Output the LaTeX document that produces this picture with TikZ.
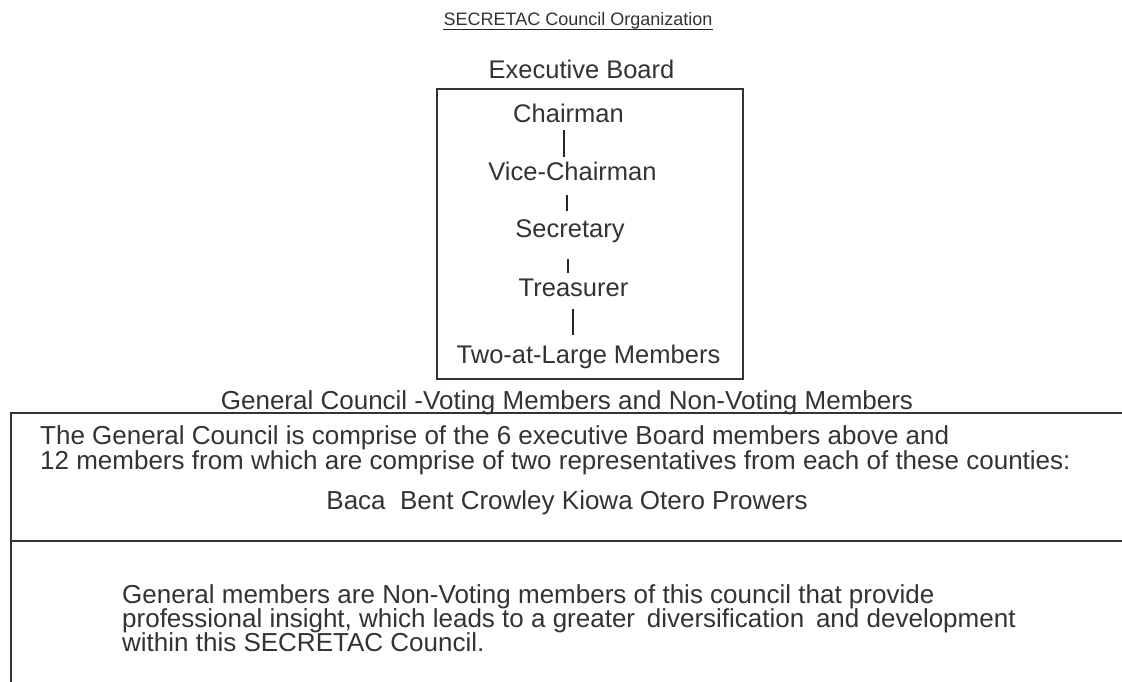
\documentclass[tikz,border=0pt]{standalone}
\usepackage{fontspec}
\setmainfont{Liberation Sans}
\usetikzlibrary{calc}
\tikzset{
  body/.style={inner sep=0pt, font=\fontsize{25.5}{30}\selectfont, text=black!80},
  para/.style={inner sep=0pt, font=\fontsize{26}{30}\selectfont, text=black!80},
  small/.style={inner sep=0pt, font=\fontsize{18}{20}\selectfont, text=black!80},
  rule/.style={line width=1.6pt, draw=black!80},
  link/.style={line width=1.1pt, draw=black!85},
}
\begin{document}
\begin{tikzpicture}[x=1pt,y=-1pt]
\useasboundingbox (0,0) rectangle (1122,682);
\fill[white] (0,0) rectangle (1122,682);

% heading
\node[small, anchor=base] (title) at (578,26) {SECRETAC Council Organization};
\draw[line width=1pt, black!85] (title.south west) -- (title.south east);

% executive board
\node[body, anchor=base] (exec) at (581.5,79) {Executive Board};
\node[rule, draw, minimum width=306pt, minimum height=290pt, inner sep=0pt] (board) at (590,234) {};

\node[body, anchor=base] (chair) at (568.5,123) {Chairman};
\node[body, anchor=base] (vice)  at (572.5,180) {Vice-Chairman};
\node[body, anchor=base] (secr)  at (570,237)   {Secretary};
\node[body, anchor=base] (treas) at (573.5,296) {Treasurer};
\node[body, anchor=base] (large) at (588.5,363) {Two-at-Large Members};

\draw[link] ($(chair.base)+(-4.5,7)$)  -- ($(vice.base)+(-8.5,-23)$);
\draw[link] ($(vice.base)+(-5.5,15)$)  -- ($(secr.base)+(-3,-26)$);
\draw[link] ($(secr.base)+(-2,22)$)    -- ($(treas.base)+(-5.5,-23)$);
\draw[link] ($(treas.base)+(-0.5,13)$) -- ($(large.base)+(-15.5,-28)$);

% general council
\node[para, anchor=base] (gc) at (567,409) {General Council -Voting Members and Non-Voting Members};
\draw[rule] (1122,413) -- (11,413) -- (11,682);
\draw[rule] (11,541) -- (1122,541);

\node[para, anchor=base west] (p1a) at (40,444) {The General Council is comprise of the 6 executive Board members above and};
\node[para, anchor=base west] (p1b) at (40,469) {12 members from which are comprise of two representatives from each of these counties:};
\node[para, anchor=base] (cty) at (567,509) {Baca\ \ Bent Crowley Kiowa Otero Prowers};

\node[para, anchor=base west] (p2a) at (122,603) {General members are Non-Voting members of this council that provide};
\node[para, anchor=base west] (p2b) at (122,627) {professional insight, which leads to a greater\hspace{0.45em}diversification\hspace{0.45em}and development};
\node[para, anchor=base west] (p2c) at (122,651) {within this SECRETAC Council.};
\end{tikzpicture}
\end{document}
